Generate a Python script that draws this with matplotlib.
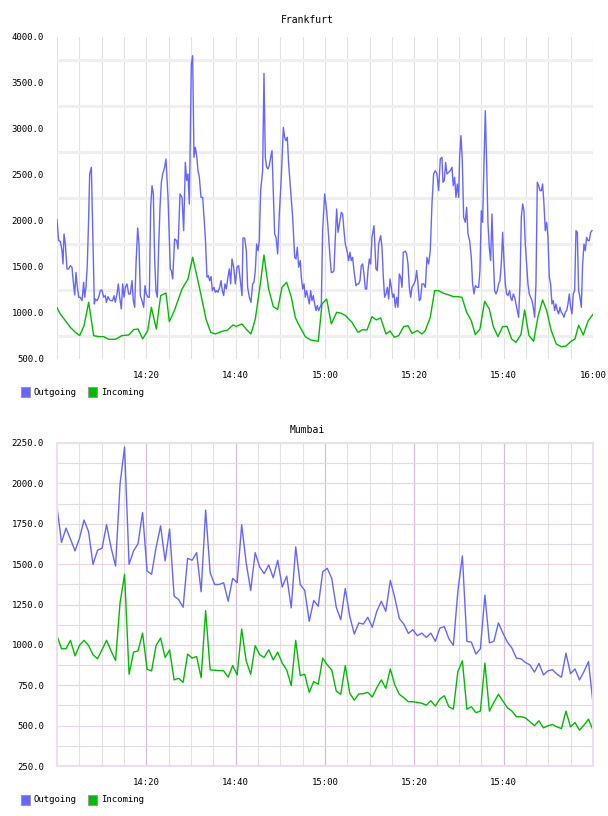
import matplotlib
matplotlib.use("Agg")
import matplotlib.pyplot as plt
from matplotlib.patches import Rectangle
from matplotlib.ticker import MultipleLocator, FixedLocator, FuncFormatter
import numpy as np

# minutes after 14:00 / kbit values
fra_out_t = [0.0, 0.37, 0.75, 1.12, 1.34, 1.57, 1.87, 2.24, 2.61, 2.99, 3.36, 3.58, 3.96, 4.25, 4.48, 4.85, 5.22, 5.60, 5.97, 6.19,
             6.49, 6.79, 7.09, 7.31, 7.69, 7.99, 8.36, 8.58, 8.96, 9.33, 9.70, 10.07, 10.45, 10.82, 11.05, 11.42, 11.79, 12.16, 12.46, 12.76,
             13.06, 13.43, 13.73, 14.03, 14.40, 14.70, 15.00, 15.30, 15.67, 16.04, 16.42, 16.79, 17.09, 17.39, 17.69, 18.06, 18.36, 18.66, 19.03, 19.40,
             19.70, 20.00, 20.37, 20.67, 20.97, 21.27, 21.57, 21.87, 22.16, 22.46, 22.76, 23.06, 23.36, 23.66, 24.10, 24.40, 24.85, 25.37, 25.60, 25.90,
             26.34, 26.79, 27.09, 27.54, 27.99, 28.36, 28.73, 29.03, 29.33, 29.63, 30.07, 30.37, 30.67, 30.97, 31.27, 31.57, 31.87, 32.24, 32.61, 32.91,
             33.21, 33.58, 33.88, 34.18, 34.48, 34.78, 35.15, 35.45, 35.75, 36.04, 36.42, 36.72, 37.02, 37.31, 37.61, 37.91, 38.21, 38.58, 38.88, 39.18,
             39.55, 39.93, 40.30, 40.67, 41.12, 41.42,
             41.64, 42.01, 42.39, 42.68, 43.06, 43.43, 43.80, 44.10, 44.40, 44.70, 45.00, 45.30, 45.59, 46.04, 46.34, 46.64, 46.94, 47.24, 47.53, 47.83,
             48.13, 48.43, 48.73, 49.03, 49.40, 49.77, 50.22, 50.67, 50.97, 51.27, 51.56, 51.86, 52.31, 52.76, 53.21, 53.50, 53.80, 54.10, 54.47, 54.70,
             55.00, 55.30, 55.59, 55.89, 56.19, 56.49, 56.79, 57.09, 57.38, 57.68, 57.98, 58.28, 58.58, 58.88, 59.18, 59.47, 59.92, 60.37, 60.67, 61.12,
             61.41, 61.71, 62.01, 62.31, 62.61, 62.91, 63.21, 63.65, 63.95, 64.25, 64.55, 64.92, 65.29, 65.59, 65.89, 66.19, 66.49, 66.94, 67.24, 67.53,
             67.83, 68.13, 68.43, 68.73, 69.03, 69.33, 69.62, 69.92, 70.22, 70.52, 70.97, 71.41, 71.71, 72.01, 72.46, 72.76, 73.06, 73.35, 73.65, 73.95,
             74.25, 74.55, 74.85, 75.15, 75.44, 75.74, 76.04, 76.34, 76.64, 76.94, 77.24, 77.53, 77.98, 78.28, 78.58, 78.88, 79.18, 79.47, 79.92, 80.22,
             80.52, 80.82, 81.12, 81.41, 81.71,
             82.08, 82.46, 82.83, 83.20, 83.57, 83.95, 84.32, 84.69, 85.07, 85.44, 85.81, 86.19, 86.41, 86.71, 87.01, 87.31, 87.68, 88.05, 88.43, 88.72,
             89.02, 89.32, 89.62, 89.92, 90.14, 90.44, 90.74, 91.04, 91.41, 91.71, 92.01, 92.38, 92.75, 93.05, 93.35, 93.65, 94.02, 94.40, 94.69, 94.99,
             95.29, 95.59, 95.89, 96.19, 96.49, 96.78, 97.08, 97.38, 97.68, 97.98, 98.28, 98.57, 98.87, 99.17, 99.47, 99.77, 100.07, 100.37, 100.66, 100.96,
             101.34, 101.56, 101.86, 102.16, 102.46, 102.75, 103.05, 103.35, 103.65, 103.95, 104.25, 104.54, 104.84, 105.14, 105.44, 105.74, 106.04, 106.34, 106.63, 106.93,
             107.23, 107.53, 107.83, 108.13, 108.43, 108.72, 109.02, 109.32, 109.62, 109.92, 110.22, 110.51, 110.81, 111.11, 111.41, 111.71, 112.01, 112.31, 112.60, 112.90,
             113.20, 113.50, 113.80, 114.10, 114.40, 114.69, 114.99, 115.29, 115.59, 115.89, 116.19, 116.49, 116.78, 117.08, 117.38, 117.68, 117.98, 118.28, 118.57, 118.87,
             119.17, 119.47, 119.77]
fra_out = [2015, 1787, 1779, 1678, 1533, 1859, 1750, 1479, 1479, 1515, 1497, 1370, 1196, 1442, 1316, 1171, 1171, 1134, 1334, 1171,
           1279, 1533, 2040, 2511, 2584, 1895, 1098, 1152, 1134, 1171, 1243, 1250, 1171, 1189, 1116, 1178, 1142, 1134, 1134, 1189,
           1116, 1207, 1316, 1171, 1044, 1316, 1171, 1279, 1316, 1207, 1207, 1352, 1134, 1062, 1533, 1924, 1750, 1189, 1134, 1062,
           1297, 1207, 1171, 1171, 2149, 2384, 2294, 1569, 1243, 1171, 1714, 2149, 2421, 2511, 2584, 2674, 2257, 1479, 1461, 1370,
           1805, 1787, 1696, 2294, 2257, 1895, 2638, 2439, 2511, 2185, 3707, 3797, 2692, 2801, 2710, 2547, 2475, 2257, 2257, 2040,
           1823, 1388, 1406, 1352, 1395, 1243, 1279, 1225, 1243, 1225, 1279, 1352, 1243, 1189, 1316, 1261, 1370, 1479, 1316, 1587,
           1497, 1316, 1497, 1515, 1316, 1189,
           1815, 1815, 1678, 1279, 1171, 1116, 1316, 1334, 1461, 1750, 1678, 1787, 2330, 2547, 3605, 2692, 2584, 2565, 2602, 2692,
           2765, 2330, 1859, 1823, 1642, 2076, 2475, 3018, 2910, 2873, 2910, 2620, 2330, 2040, 1605, 1587, 1714, 1497, 1569, 1388,
           1261, 1316, 1171, 1243, 1171, 1098, 1243, 1134, 1189, 1098, 1026, 1080, 1026, 1062, 1098, 1895, 2294, 2112, 1931, 1605,
           1442, 1442, 1461, 1823, 2131, 1877, 1968, 2094, 2076, 1895, 1750, 1678, 1569, 1660, 1569, 1605, 1461, 1297, 1316, 1316,
           1352, 1515, 1533, 1424, 1261, 1261, 1461, 1587, 1533, 1823, 1949, 1479, 1461, 1750, 1841, 1714, 1388, 1171, 1207, 1279,
           1152, 1370, 1279, 1171, 1207, 1062, 1171, 1062, 1424, 1388, 1279, 1660, 1671, 1642, 1533, 1279, 1171, 1279, 1316, 1352,
           1461, 1316, 1134, 1152, 1316,
           1316, 1279, 1605, 1533, 1678, 2185, 2511, 2547, 2511, 2330, 2674, 2692, 2421, 2439, 2638, 2511, 2529, 2547, 2584, 2384,
           2475, 2257, 2402, 2257, 2692, 2928, 2656, 2040, 1986, 2149, 1859, 1787, 1605, 1316, 1207, 1297, 1279, 1279, 1461, 2112,
           1986, 2620, 3199, 2620, 1968, 1714, 1569, 2076, 1605, 1243, 1207, 1243, 1316, 1352, 1533, 1877, 1569, 1316, 1207, 1189,
           1243, 1171, 1134, 1207, 1171, 1098, 1026, 953, 1316, 2040, 2185, 2112, 1750, 1533, 1316, 1207, 1171, 1134, 1062, 953,
           1316, 2421, 2384, 2330, 2330, 2402, 2185, 1895, 1986, 1823, 1388, 1316, 1098, 1134, 1026, 1098, 1026, 990, 1062, 1008,
           990, 953, 1008, 1026, 1098, 1207, 1062, 990, 1207, 1243, 1895, 1877, 1243, 1171, 1062, 1533, 1750, 1678, 1823, 1787,
           1787, 1877, 1895]

fra_in_t = [0.0, 0.75, 1.87, 2.99, 4.10, 5.08, 6.05, 7.09, 8.21, 9.33, 10.45, 11.57, 13.06, 14.55, 16.04, 17.16, 18.13, 19.18, 20.30, 21.12,
            22.24, 23.21, 24.40, 25.15, 26.27, 27.99, 29.33, 30.37, 31.72, 33.36, 34.40, 35.45, 36.94, 38.21, 39.40, 40.15, 41.42,
            42.31, 43.43, 44.40, 45.52, 46.34, 47.38, 48.43, 49.40, 50.37, 51.41, 52.46, 53.35, 53.95, 55.07, 55.59, 56.79, 58.50, 59.33, 60.37, 61.41,
            62.61, 63.65, 64.62, 66.04, 67.38, 68.43, 69.40, 70.52, 71.49, 72.46, 73.65, 74.55, 75.52, 76.49, 77.61, 78.58, 79.47, 80.67, 81.71,
            82.46, 83.57, 84.54, 85.44, 86.56, 87.53, 88.72, 89.54, 90.66, 91.71, 92.75, 93.65, 94.69, 95.74, 96.78, 97.68, 98.72, 99.77, 100.74, 101.78,
            102.75, 103.87, 104.69, 105.66, 106.71, 107.68, 108.72, 109.62, 110.66, 111.78, 112.90, 113.95, 115.07, 115.96, 116.78, 117.83, 118.87, 119.92]
fra_in = [1055, 989, 917, 844, 790, 754, 862, 1116, 754, 743, 743, 714, 714, 754, 761, 819, 826, 718, 808, 1062,
          826, 1189, 1217, 906, 1026, 1261, 1370, 1605, 1316, 935, 790, 772, 801, 815, 870, 855, 881,
          826, 772, 935, 1316, 1631, 1261, 1069, 1040, 1279, 1334, 1171, 953, 888, 790, 743, 707, 692, 1098, 1152, 881,
          1008, 997, 971, 899, 790, 819, 815, 960, 924, 946, 772, 805, 736, 754, 852, 862, 779, 808, 772,
          808, 953, 1243, 1243, 1214, 1200, 1178, 1178, 1171, 1008, 917, 765, 826, 1127, 1044, 852, 743, 852, 855, 718,
          681, 765, 1033, 757, 692, 960, 1142, 1026, 808, 663, 634, 641, 692, 718, 866, 761, 910, 982]

# Mumbai: one sample per minute, 14:00 - 16:00
mum_out = [1856, 1634, 1723, 1654, 1582, 1661, 1773, 1702, 1499, 1586, 1598, 1744, 1603, 1488, 1997, 2225, 1499, 1582, 1627, 1820,
           1457, 1437, 1603, 1737, 1520, 1717, 1302, 1281, 1233, 1536, 1524, 1571, 1329, 1835, 1447, 1374, 1374, 1385, 1270, 1412,
           1385, 1744,
           1509, 1337, 1571, 1482, 1441, 1495, 1416, 1524, 1358, 1426, 1229, 1607, 1374, 1337, 1146, 1275, 1239, 1453, 1474, 1412,
           1233, 1156, 1349, 1177, 1067, 1136, 1129, 1171, 1109, 1208, 1270, 1208, 1399, 1291, 1163, 1129, 1071, 1094, 1057, 1073,
           1046, 1073, 1022, 1104, 1113, 1038, 997, 1333, 1551, 1022, 1017, 943, 976, 1308, 1013, 1022, 1136, 1073, 1017, 980,
           918, 914, 891, 876, 831, 885, 814, 839, 847, 818, 800, 949, 822, 851, 783, 835, 897, 638]
mum_in = [1057, 976, 976, 1028, 932, 997, 1028, 997, 939, 914, 970, 1028, 963, 903, 1260, 1437, 818, 955, 963, 1073,
          849, 839, 997, 1042, 922, 968, 783, 793, 768, 943, 918, 928, 797, 1212, 845, 843, 841, 839, 800, 872,
          814, 1098,
          901, 818, 995, 939, 922, 970, 907, 955, 887, 845, 748, 1028, 810, 818, 706, 773, 756, 918, 876, 845,
          714, 694, 872, 700, 658, 696, 698, 706, 677, 735, 783, 731, 851, 752, 694, 673, 648, 648, 644, 638,
          627, 654, 621, 665, 685, 617, 602, 835, 901, 602, 617, 580, 590, 887, 590, 644, 694, 652, 611, 590,
          555, 555, 548, 524, 499, 530, 486, 499, 507, 492, 482, 590, 492, 519, 472, 503, 540, 472]
mum_t = np.linspace(0, 120, len(mum_out))

blue = '#6666ff'
green = '#00bb00'
font = 'DejaVu Sans Mono'
W, H = 608.0, 816.0

fig = plt.figure(figsize=(6.08, 8.16), dpi=100)


def hhmm(m, pos=None):
    m = int(round(m))
    return "%d:%02d" % (14 + m // 60, m % 60)


def legend(ypx):
    for x0, col, label in [(21, blue, 'Outgoing'), (88, green, 'Incoming')]:
        fig.patches.append(Rectangle((x0 / W, 1 - (ypx + 5) / H), 9 / W, 10 / H, transform=fig.transFigure,
                                     facecolor=col, edgecolor='#999999', lw=0.8))
        fig.text((x0 + 13) / W, 1 - ypx / H, label, fontsize=6.5, family=font, va='center', ha='left')


def style(ax, yticks, xticks):
    ax.set_xlim(0, 120)
    ax.xaxis.set_major_locator(FixedLocator(xticks))
    ax.xaxis.set_minor_locator(MultipleLocator(5))
    ax.xaxis.set_major_formatter(FuncFormatter(hhmm))
    ax.set_yticks(yticks)
    ax.yaxis.set_major_formatter(FuncFormatter(lambda v, p: "%.1f" % v))
    ax.tick_params(which='both', length=0, labelsize=6.5)
    ax.tick_params(axis='y', pad=9.5)
    ax.tick_params(axis='x', pad=8.5)
    for lab in ax.get_xticklabels() + ax.get_yticklabels():
        lab.set_family(font)
    ax.set_axisbelow(True)


# Frankfurt
ax1 = fig.add_axes([57 / W, 1 - 359 / H, 536 / W, 322 / H])
ax1.set_ylim(500, 4000)
style(ax1, np.arange(500, 4001, 500), [20, 40, 60, 80, 100, 120])
ax1.yaxis.set_minor_locator(FixedLocator(np.arange(750, 3751, 500)))
ax1.grid(which='minor', axis='y', color='#efefef', lw=2.2)
ax1.grid(which='both', axis='x', color='#e2e2e2', lw=0.8)
for s in ax1.spines.values():
    s.set_visible(False)
ax1.plot(fra_out_t, fra_out, color=blue, lw=1.0)
ax1.plot(fra_in_t, fra_in, color=green, lw=1.0)
fig.text(307 / W, 1 - 20 / H, 'Frankfurt', fontsize=7, family=font, ha='center', va='center')
legend(392)

# Mumbai
ax2 = fig.add_axes([57 / W, 1 - 766 / H, 536 / W, 323 / H])
ax2.set_ylim(250, 2250)
style(ax2, np.arange(250, 2251, 250), [20, 40, 60, 80, 100])
ax2.yaxis.set_minor_locator(MultipleLocator(125))
ax2.grid(which='major', axis='y', color='#ead4ea', lw=0.9)
ax2.grid(which='minor', axis='y', color='#e4dae4', lw=0.8)
ax2.grid(which='major', axis='x', color='#d6bcd6', lw=0.9)
ax2.grid(which='minor', axis='x', color='#e6e0e6', lw=0.8)
for s in ax2.spines.values():
    s.set_color('#eedfee')
    s.set_linewidth(1.5)
ax2.plot(mum_t, mum_out, color=blue, lw=1.0)
ax2.plot(mum_t, mum_in, color=green, lw=1.0)
fig.text(307 / W, 1 - 430 / H, 'Mumbai', fontsize=7, family=font, ha='center', va='center')
legend(800)

fig.savefig('out.png', dpi=100)
